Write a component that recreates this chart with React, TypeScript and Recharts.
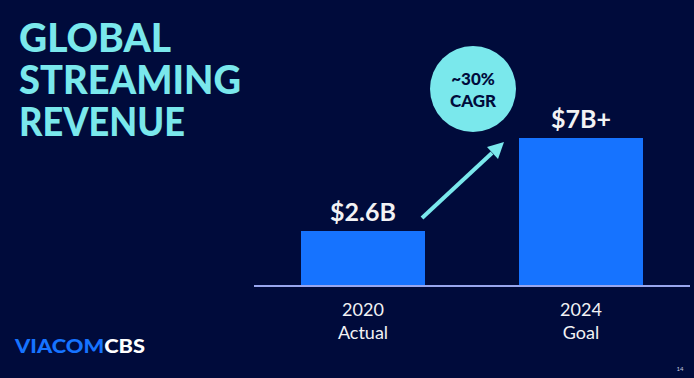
import React from "react";
import { BarChart, Bar, XAxis, YAxis, LabelList } from "recharts";

const years = ["2020", "2024"];
const subLabels = ["Actual", "Goal"];
const revenue = [2.6, 7];
const valueLabels = ["$2.6B", "$7B+"];
const titleLines = ["GLOBAL", "STREAMING", "REVENUE"];

const data = years.map((y, i) => ({
  year: y,
  sub: subLabels[i],
  revenue: revenue[i],
  label: valueLabels[i],
}));

const BG = "#000B3B";
const BAR = "#1673FF";
const CYAN = "#7AE8EC";
const WHITE = "#F2F2F4";

function CategoryTick(props: any) {
  const { x, y, payload, index } = props;
  return (
    <g>
      <text x={x} y={y + 22} textAnchor="middle" fill={WHITE} fontSize={18} fontFamily="Lato">
        {payload.value}
      </text>
      <text x={x} y={y + 45} textAnchor="middle" fill={WHITE} fontSize={18} fontFamily="Lato">
        {subLabels[index]}
      </text>
    </g>
  );
}

export default function App() {
  return (
    <div
      style={{
        position: "absolute",
        left: 0,
        top: 0,
        width: 694,
        height: 378,
        background: BG,
        overflow: "hidden",
      }}
    >
      <BarChart
        width={694}
        height={378}
        data={data}
        margin={{ top: 74.6, right: 4, left: 254, bottom: 62 }}
      >
        <YAxis hide domain={[0, 10]} />
        <XAxis
          dataKey="year"
          height={30}
          axisLine={{ stroke: "#98A6EE", strokeWidth: 2 }}
          tickLine={false}
          tick={<CategoryTick />}
          interval={0}
        />
        <Bar dataKey="revenue" fill={BAR} barSize={124} isAnimationActive={false}>
          <LabelList
            dataKey="label"
            position="top"
            offset={10}
            fill={WHITE}
            fontSize={25}
            fontWeight={700}
            fontFamily="Lato"
          />
        </Bar>
      </BarChart>
      <svg
        width={694}
        height={378}
        style={{ position: "absolute", left: 0, top: 0, pointerEvents: "none" }}
      >
        {titleLines.map((t, i) => (
          <text
            key={t}
            x={19}
            y={52 + i * 42}
            fill={CYAN}
            fontSize={40}
            fontWeight={900}
            fontFamily="Lato"
            textLength={[152, 222, 166][i]}
            lengthAdjust="spacingAndGlyphs"
          >
            {t}
          </text>
        ))}
        <circle cx={473} cy={89} r={43} fill={CYAN} />
        <text x={473} y={85} textAnchor="middle" fill={BG} fontSize={17} fontWeight={900} fontFamily="Lato">
          ~30%
        </text>
        <text x={473} y={107} textAnchor="middle" fill={BG} fontSize={17} fontWeight={900} fontFamily="Lato">
          CAGR
        </text>
        <line x1={422} y1={218} x2={492} y2={153} stroke={CYAN} strokeWidth={4} />
        <polygon points="504,142 498,159 487,147" fill={CYAN} />
        <text
          x={15}
          y={353}
          fontSize={18}
          fontWeight={900}
          fontFamily="Lato"
          textLength={130}
          lengthAdjust="spacingAndGlyphs"
        >
          <tspan fill={BAR}>VIACOM</tspan>
          <tspan fill="#FFFFFF">CBS</tspan>
        </text>
        <text x={680} y={371} textAnchor="middle" fill="#C8CCE0" fontSize={6} fontFamily="Lato">
          14
        </text>
      </svg>
    </div>
  );
}
